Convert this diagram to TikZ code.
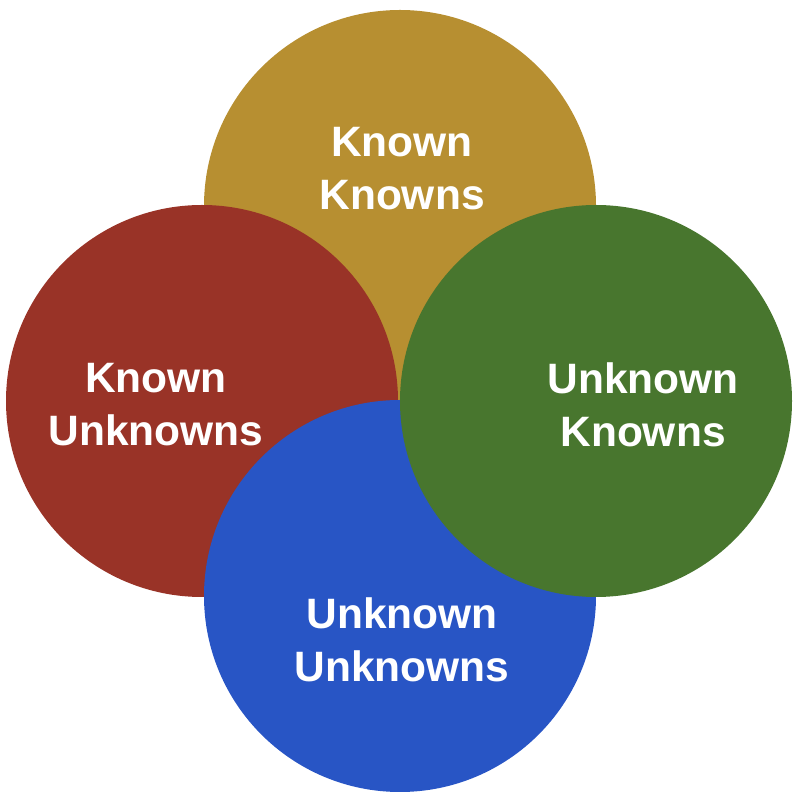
\documentclass[tikz,border=0pt]{standalone}
\usepackage{fontspec}
\setmainfont{Liberation Sans}
\definecolor{cgold}{RGB}{183,143,49}
\definecolor{cred}{RGB}{153,51,39}
\definecolor{cgreen}{RGB}{72,118,46}
\definecolor{cblue}{RGB}{40,85,197}
\begin{document}
\begin{tikzpicture}[x=1pt,y=1pt,
  lab/.style={text=white,font=\fontsize{42.5}{53}\selectfont\bfseries,align=center,inner sep=0pt}]
\useasboundingbox (0,0) rectangle (800,800);
\fill[cgold] (400,594) circle (196);
\fill[cred] (202,399) circle (196);
\fill[cblue] (400,204) circle (196);
\fill[cgreen] (596,399) circle (196);
\node[lab] (kk) at (402,631) {Known\\Knowns};
\node[lab] (ku) at (156,395) {Known\\Unknowns};
\node[lab] (uk) at (643,395) {Unknown\\Knowns};
\node[lab] (uu) at (402,160) {Unknown\\Unknowns};
\end{tikzpicture}
\end{document}
